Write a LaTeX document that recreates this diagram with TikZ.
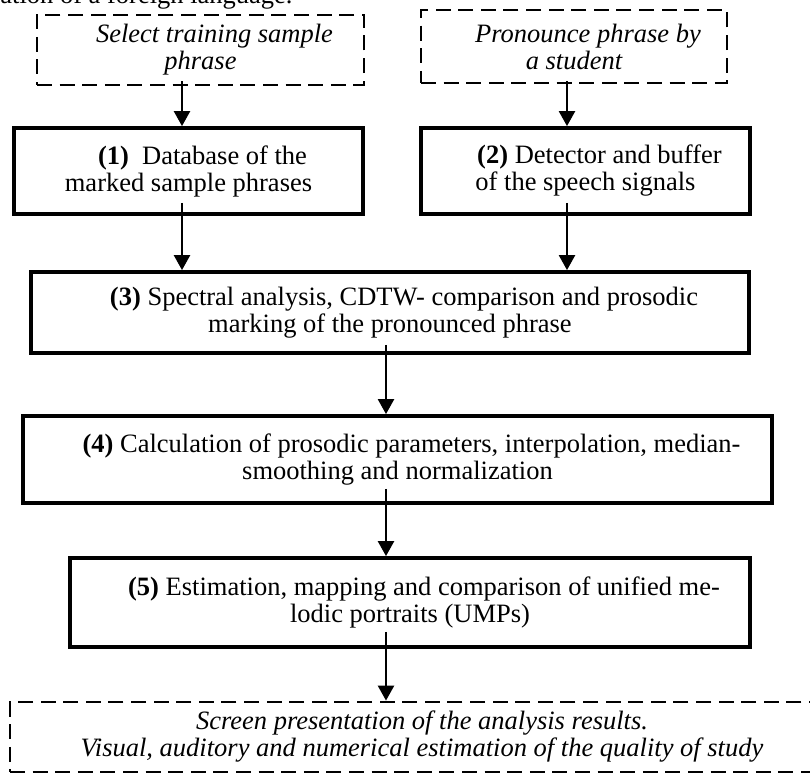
\documentclass[tikz,border=0pt]{standalone}
\usepackage{fontspec}
\setmainfont{Liberation Serif}
\usepackage{tikz}
\usetikzlibrary{arrows.meta,positioning}

\newcommand{\firstind}{\hspace*{14pt}}

\begin{document}
\begin{tikzpicture}[
    x=0.5pt, y=-0.5pt,
    font=\fontsize{13.25}{13.5}\selectfont,
    block/.style={rectangle, draw, line width=1.9pt, inner sep=0pt, align=center},
    userbox/.style={rectangle, draw, line width=1.4pt, dash pattern=on 7.5pt off 3.8pt, inner sep=0pt, align=center, font=\fontsize{13.25}{13.5}\selectfont\itshape},
    arrow/.style={-{Triangle[width=8pt,length=7.5pt]}, line width=1.2pt}
]
\fill[white] (0,0) rectangle (810,773);
\clip (0,0) rectangle (810,773);

% caption line cut off above
\node[anchor=base west, inner sep=0pt] (cap) at (0,3) {ation of a foreign language.};

% user actions
\node[userbox, minimum width=163.5pt, minimum height=35pt] (sel) at (200.5,50) {\firstind Select training sample\\phrase};
\node[userbox, minimum width=153pt, minimum height=36.5pt] (pron) at (574,46.5) {\firstind Pronounce phrase by\\a student};

% processing blocks
\node[block, minimum width=174.5pt, minimum height=43pt] (db) at (188.5,171) {\firstind\textbf{(1)}\ \ Database of the\\marked sample phrases};
\node[block, minimum width=164.5pt, minimum height=43pt] (det) at (585.5,171) {\firstind\textbf{(2)} Detector and buffer\\of the speech signals};
\node[block, minimum width=359pt, minimum height=40.5pt] (spec) at (390,312.5) {\firstind\textbf{(3)} Spectral analysis, CDTW- comparison and prosodic\\marking of the pronounced phrase};
\node[block, minimum width=374.5pt, minimum height=43.5pt] (calc) at (397.5,459.5) {\firstind\textbf{(4)} Calculation of prosodic parameters, interpolation, median-\\smoothing and normalization};
\node[block, minimum width=340pt, minimum height=44.5pt] (est) at (410,602.5) {\firstind\textbf{(5)} Estimation, mapping and comparison of unified me-\\lodic portraits (UMPs)};

% result screen
\node[userbox, minimum width=412pt, minimum height=35pt] (scr) at (422,737) {Screen presentation of the analysis results.\\Visual, auditory and numerical estimation of the quality of study};

% arrow columns
\coordinate (colL) at (182,0);
\coordinate (colR) at (567,0);
\coordinate (colM) at (386,0);

% Arrows
\draw[arrow] ([yshift=2.5pt]sel.south -| colL) -- (db.north -| colL);
\draw[arrow] ([yshift=1.5pt]pron.south -| colR) -- (det.north -| colR);
\draw[arrow] ([yshift=6.5pt]db.south -| colL) -- (spec.north -| colL);
\draw[arrow] ([yshift=6.5pt]det.south -| colR) -- (spec.north -| colR);
\draw[arrow] ([yshift=5pt]spec.south -| colM) -- (calc.north -| colM);
\draw[arrow] ([yshift=8pt]calc.south -| colM) -- (est.north -| colM);
\draw[arrow] ([yshift=8.5pt]est.south -| colM) -- (scr.north -| colM);

\end{tikzpicture}
\end{document}
